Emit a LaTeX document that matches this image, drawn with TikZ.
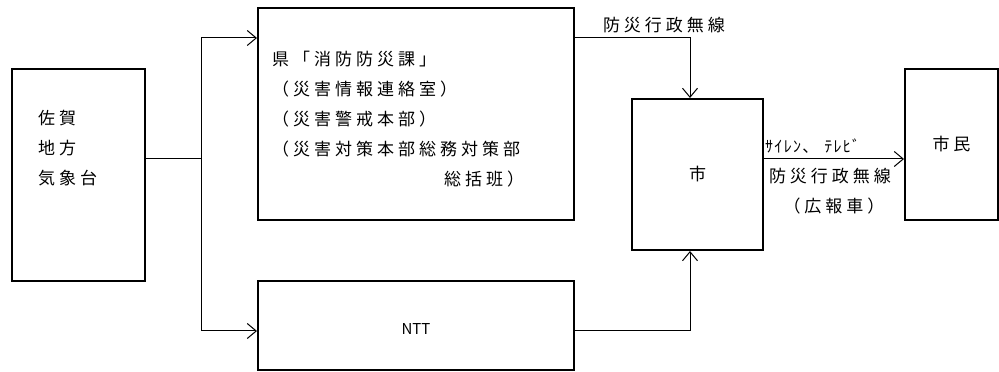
\documentclass[tikz,border=0pt]{standalone}
\usepackage{fontspec}
\setmainfont{Noto Sans CJK JP}[LetterSpace=23.5]
\usetikzlibrary{arrows.meta,calc}
\tikzset{
  box/.style={draw,line width=2pt,inner sep=0pt},
  conn/.style={line width=1pt},
  arr/.style={conn,-{Straight Barb[length=9pt,width=15pt,line width=1pt]}},
  jp/.style={font=\fontsize{17pt}{30pt}\selectfont,inner sep=0pt},
  small/.style={font=\fontsize{16pt}{18pt}\selectfont\addfontfeature{LetterSpace=8},inner sep=0pt}
}
\begin{document}
\begin{tikzpicture}[x=1pt,y=1pt]
\useasboundingbox (0,0) rectangle (999,372);
% boxes
\node[box,minimum width=133pt,minimum height=212pt] (L) at (78.5,197) {};
\node[box,minimum width=316pt,minimum height=212pt] (top) at (416,258) {};
\node[box,minimum width=316pt,minimum height=89pt] (ntt) at (416,46) {};
\node[box,minimum width=131pt,minimum height=151pt,jp] (shi) at (697.5,197.5) {市};
\node[box,minimum width=93pt,minimum height=151pt,jp] (shimin) at (951.5,227.5) {市民};
% texts
\node[jp,anchor=north west,align=left] (Ltxt) at (38,262) {佐賀\\地方\\気象台};
\node[jp,anchor=north west,align=left] (Ttxt) at (272,321) {県「消防防災課」\\（災害情報連絡室）\\（災害警戒本部）\\（災害対策本部総務対策部\\\hspace*{172pt}総括班）};
\node[font=\fontsize{15pt}{17pt}\selectfont\addfontfeature{LetterSpace=0},inner sep=0pt] (nttl) at (416,43) {NTT};
% connectors
\coordinate (j) at (201,213);
\coordinate (jt) at (201,334);
\coordinate (jb) at (201,41);
\coordinate (k) at (690,334);
\draw[conn] (L.east |- j) -- (j);
\draw[conn] (jt) -- (jb);
\draw[arr] (jt) -- (top.west |- jt);
\draw[arr] (jb) -- (ntt.west |- jb);
\draw[arr] (top.east |- k) -| (k |- shi.north);
\draw[arr] (ntt.east |- jb) -| (k |- shi.south);
\draw[arr] (shi.east |- j) -- (shimin.west |- j);
% labels
\node[jp] (lab1) at (664,347) {防災行政無線};
\node[small,anchor=base west] (lab2) at (765,219) {ｻｲﾚﾝ、\hspace*{6pt}ﾃﾚﾋﾞ};
\node[jp] (lab3) at (830,196) {防災行政無線};
\node[jp] (lab4) at (834,166) {（広報車）};
\end{tikzpicture}
\end{document}
